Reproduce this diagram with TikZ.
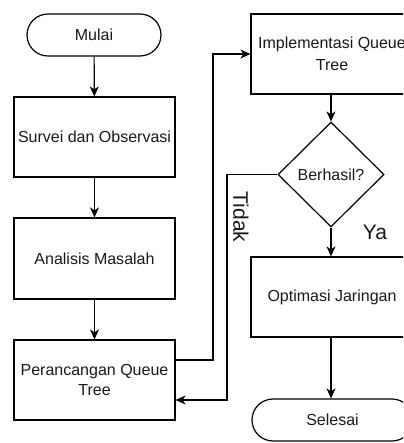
\documentclass[tikz,border=0pt]{standalone}
\usepackage{fontspec}
\setmainfont{Liberation Sans}
\usetikzlibrary{shapes.geometric,arrows.meta,calc}
\begin{document}
\begin{tikzpicture}[x=1pt,y=-1pt,
  every node/.style={font=\fontsize{16}{20}\selectfont, text=black!90},
  proc/.style={draw, line width=1.2pt, minimum width=161pt, minimum height=80pt, align=center, inner sep=0pt},
  term/.style={draw, line width=1.2pt, minimum width=134pt, minimum height=42pt, rounded corners=21pt, inner sep=0pt},
  dec/.style={draw, line width=1.2pt, diamond, minimum width=106pt, minimum height=105pt, inner sep=0pt},
  conn/.style={line width=1.2pt, -{Stealth[length=10pt,width=9pt,inset=3pt]}},
  lbl/.style={font=\fontsize{21}{21}\selectfont, inner sep=0pt}]
\useasboundingbox (0,0) rectangle (403,443);
\clip (0,0) rectangle (403,443);
\node[term] (mulai) at (94,35) {Mulai};
\node[proc] (survei) at (94.5,137) {Survei dan Observasi};
\node[proc, minimum height=81pt] (analisis) at (94.5,258.5) {Analisis Masalah};
\node[proc] (peran) at (94.5,380) {Perancangan Queue\\Tree};
\node[proc, minimum width=162pt, font=\fontsize{16}{22}\selectfont] (impl) at (332,54) {Implementasi Queue\\Tree};
\node[dec] (dec) at (331,174.5) {Berhasil?};
\node[proc, minimum width=162pt] (opt) at (332,297) {Optimasi Jaringan};
\node[term, minimum width=161pt] (selesai) at (332.5,420) {Selesai};
\coordinate (b1) at (213,360);
\coordinate (b2) at (213,54);
\coordinate (c1) at (227,174.5);
\coordinate (c2) at (227,400);
\draw[conn] (mulai) -- (survei);
\draw[conn] (survei) -- (analisis);
\draw[conn] (analisis) -- (peran);
\draw[conn] (peran.east |- b1) -- (b1) -- (b2) -- (impl.west);
\draw[conn] (impl.south -| dec) -- (dec.north);
\draw[conn] (dec.south) -- (opt.north -| dec);
\draw[conn] (opt.south -| dec) -- (selesai.north -| dec);
\draw[conn] (dec.west) -- (c1) -- (c2) -- (peran.east |- c2);
\node[lbl, rotate=-90] (tidak) at (241,217) {Tidak};
\node[lbl] (ya) at (375,232) {Ya};
\end{tikzpicture}
\end{document}
